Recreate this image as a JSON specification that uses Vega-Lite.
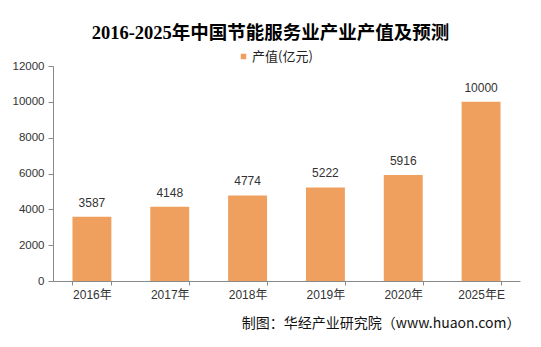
{
  "$schema": "https://vega.github.io/schema/vega-lite/v6.json",
  "width": 467,
  "height": 215,
  "autosize": {"type": "none"},
  "padding": {"left": 53, "top": 66, "right": 21, "bottom": 66},
  "background": "white",
  "title": {
    "text": "2016-2025年中国节能服务业产业产值及预测",
    "font": "Liberation Serif, Noto Sans CJK SC",
    "fontSize": 18.5,
    "fontWeight": "bold",
    "color": "#000000",
    "anchor": "middle",
    "dx": -16,
    "dy": 19,
    "offset": 27
  },
  "data": {
    "values": [
      {"year": "2016年", "value": 3587, "series": "产值(亿元)"},
      {"year": "2017年", "value": 4148, "series": "产值(亿元)"},
      {"year": "2018年", "value": 4774, "series": "产值(亿元)"},
      {"year": "2019年", "value": 5222, "series": "产值(亿元)"},
      {"year": "2020年", "value": 5916, "series": "产值(亿元)"},
      {"year": "2025年E", "value": 10000, "series": "产值(亿元)"}
    ]
  },
  "encoding": {
    "x": {
      "field": "year",
      "type": "nominal",
      "sort": null,
      "scale": {"paddingInner": 0.5, "paddingOuter": 0.25},
      "axis": {
        "title": "制图：华经产业研究院（www.huaon.com）",
        "titleFont": "Noto Sans CJK SC",
        "titleFontSize": 14,
        "titleFontWeight": "normal",
        "titleColor": "#111111",
        "titleAnchor": "end",
        "titleAlign": "right",
        "titlePadding": 16,
        "labelAngle": 0,
        "labelFont": "Liberation Sans, Noto Sans CJK SC",
        "labelFontSize": 12,
        "labelColor": "#333333",
        "labelPadding": 4,
        "tickBand": "extent",
        "tickSize": 4,
        "tickColor": "#898989",
        "domainColor": "#898989",
        "grid": false
      }
    },
    "y": {
      "field": "value",
      "type": "quantitative",
      "scale": {"domain": [0, 12000]},
      "axis": {
        "title": null,
        "values": [0, 2000, 4000, 6000, 8000, 10000, 12000],
        "format": "d",
        "labelFont": "Liberation Sans",
        "labelFontSize": 11.5,
        "labelColor": "#333333",
        "labelPadding": 4,
        "tickSize": 5,
        "tickColor": "#898989",
        "domainColor": "#898989",
        "grid": false
      }
    }
  },
  "layer": [
    {
      "mark": {"type": "bar", "color": "#EF9F5E"},
      "encoding": {
        "color": {
          "field": "series",
          "type": "nominal",
          "scale": {"range": ["#EF9F5E"]},
          "legend": {
            "title": null,
            "orient": "none",
            "legendX": 184,
            "legendY": -16,
            "symbolType": "square",
            "symbolSize": 30,
            "symbolStrokeWidth": 0,
            "labelFont": "Noto Sans CJK SC",
            "labelFontSize": 13,
            "labelColor": "#222222",
            "labelOffset": 2
          }
        }
      }
    },
    {
      "mark": {
        "type": "text",
        "baseline": "bottom",
        "dy": -7,
        "font": "Liberation Sans",
        "fontSize": 12,
        "color": "#333333"
      },
      "encoding": {
        "text": {"field": "value", "type": "quantitative", "format": "d"}
      }
    }
  ],
  "config": {
    "view": {"stroke": null}
  }
}
